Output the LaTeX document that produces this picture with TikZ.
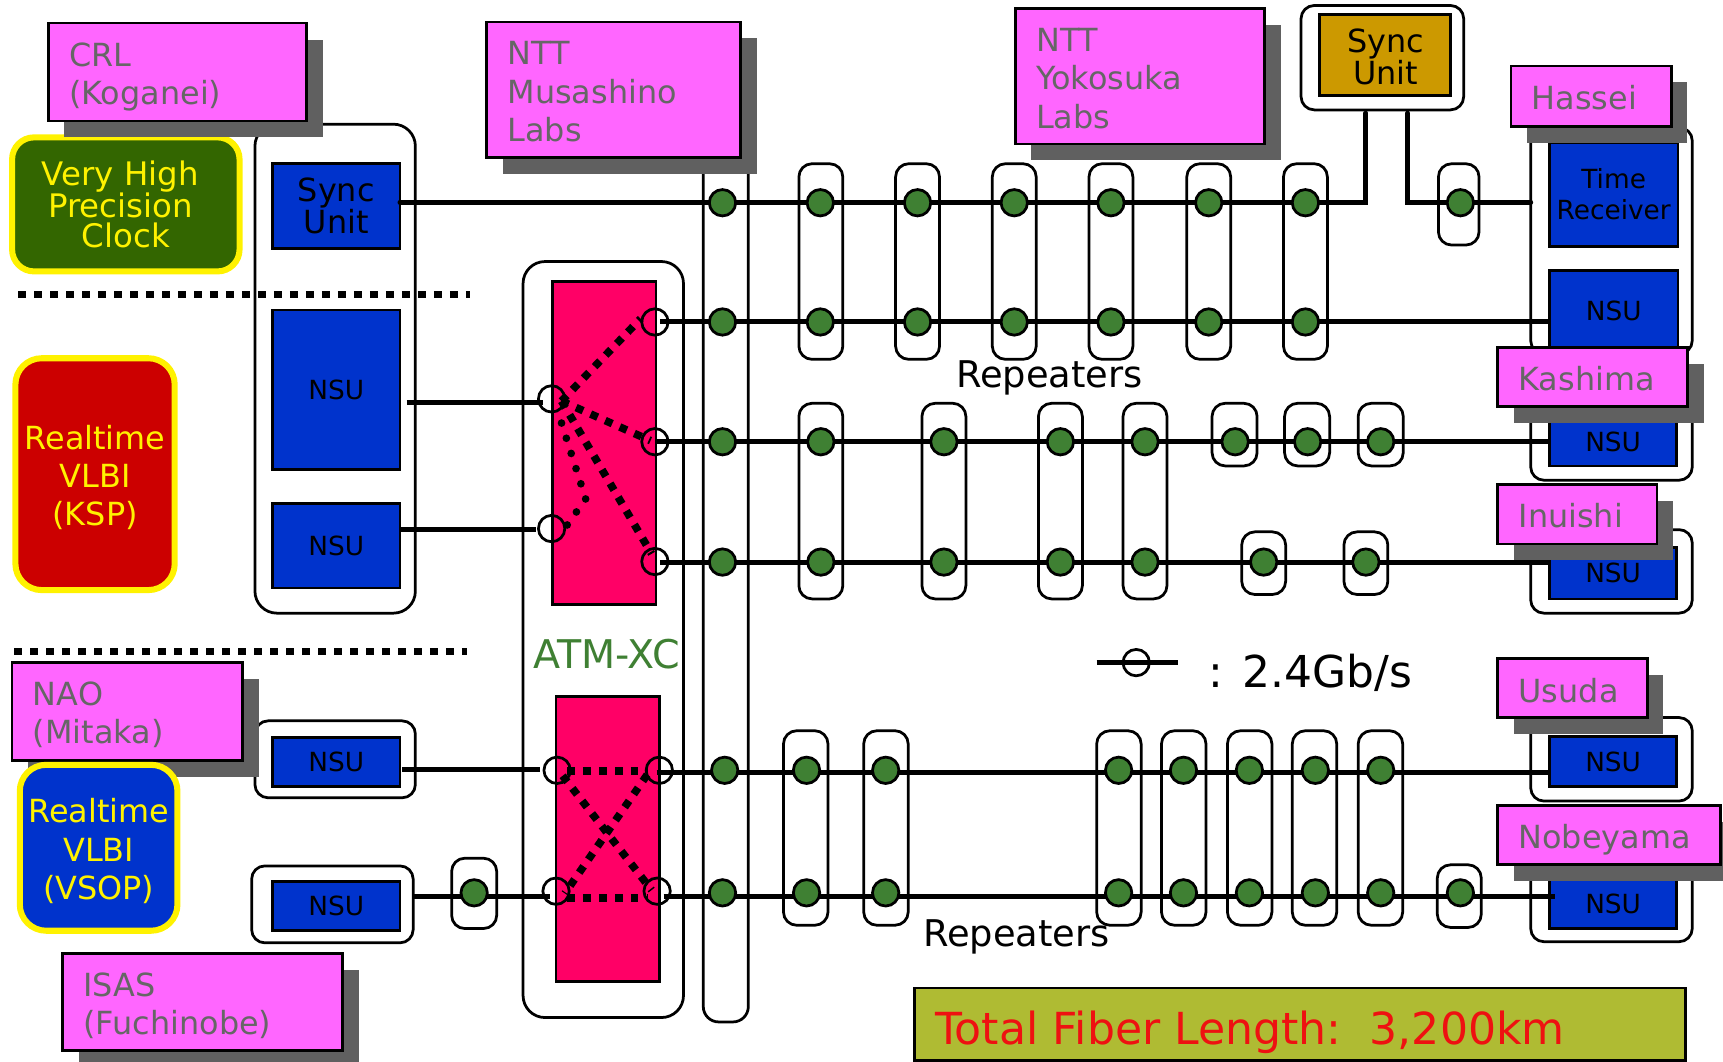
\documentclass[tikz,border=0pt]{standalone}
\usepackage{fontspec}
\setmainfont{DejaVu Sans}
\definecolor{labpink}{HTML}{FF66FF}
\definecolor{shadowgrey}{HTML}{606060}
\definecolor{labtext}{HTML}{666666}
\definecolor{nsublue}{HTML}{0033CC}
\definecolor{xcpink}{HTML}{FF0066}
\definecolor{syncgold}{HTML}{CC9900}
\definecolor{clockgreen}{HTML}{336600}
\definecolor{rtred}{HTML}{CC0000}
\definecolor{repgreen}{HTML}{3F8033}
\definecolor{xcgreen}{HTML}{3F8033}
\definecolor{olivebar}{HTML}{AFBB33}
\definecolor{fiberred}{HTML}{EE1111}
\newcommand\fs[2]{\fontsize{#1}{#2}\selectfont}
\newcommand\nsutxt{\raisebox{-2pt}{NSU}}
% \bx{style}{name}{x1}{y1}{x2}{y2}{text}
\newcommand\bx[7]{%
  \pgfmathsetmacro\bxw{#5-#3}\pgfmathsetmacro\bxh{#6-#4}%
  \pgfmathsetmacro\bxcx{(#3+#5)/2}\pgfmathsetmacro\bxcy{(#4+#6)/2}%
  \node[#1,minimum width=\bxw pt,minimum height=\bxh pt] (#2) at (\bxcx,\bxcy) {#7};}
% \lab{name}{x1}{y1}{x2}{y2}{text}{text shift}
\newcommand\lab[7]{%
  \fill[shadowgrey] (#2+14.5,#3+15) rectangle (#4+14.5,#5+15);
  \pgfmathsetmacro\bxw{#4-#2}\pgfmathsetmacro\bxh{#5-#3}%
  \pgfmathsetmacro\bxcx{(#2+#4)/2}\pgfmathsetmacro\bxcy{(#3+#5)/2}%
  \pgfmathsetmacro\bxty{(#3+#5)/2+#7}\pgfmathsetmacro\bxtx{#2+18.8}%
  \node[labbox,minimum width=\bxw pt,minimum height=\bxh pt] (#1) at (\bxcx,\bxcy) {};
  \node[labtextstyle] (#1text) at (\bxtx,\bxty) {#6};}
\tikzset{
  labbox/.style={draw=black,line width=2.5pt,fill=labpink,inner sep=0pt},
  labtextstyle/.style={anchor=west,text=labtext,align=left,inner sep=0pt,font=\fs{29}{35}},
  roundbox/.style={draw=black,line width=2.5pt,fill=white,rounded corners=#1,inner sep=0pt},
  roundbox/.default=20pt,
  nsubox/.style={draw=black,line width=2.5pt,fill=nsublue,text=black,inner sep=0pt,align=center,font=\fs{24}{28}},
  syncbox/.style={nsubox,font=\fs{29}{28}},
  xcbox/.style={draw=black,line width=2.5pt,fill=xcpink,inner sep=0pt},
  highlight/.style={draw=yellow,line width=5.5pt,rounded corners=#1,text=yellow,inner sep=0pt,align=center},
  wire/.style={draw=black,line width=4.5pt},
  xwire/.style={draw=black,line width=7pt,dash pattern=on 7pt off 7.5pt},
  dotwire/.style={draw=black,line width=7pt,line cap=round,dash pattern=on 0pt off 14.5pt},
  port/.style={circle,draw=black,line width=2.5pt,minimum size=24pt,inner sep=0pt},
  rep/.style={circle,draw=black,line width=2.5pt,fill=repgreen,minimum size=24pt,inner sep=0pt},
  sep/.style={draw=black,line width=6.5pt,dash pattern=on 7.2pt off 7.35pt},
  plaintext/.style={inner sep=0pt,align=center}
}
\begin{document}
\begin{tikzpicture}[x=1pt,y=-1pt]
\useasboundingbox (0,0) rectangle (1568,966.4);
% ---------- enclosures
\bx{roundbox}{leftgroup}{232}{113}{378}{558}{}
\bx{roundbox}{atmgroup}{476}{238}{622}{926}{}
\bx{roundbox=14pt}{column}{640}{120}{681}{930}{}
\bx{roundbox=12pt}{nsugroupa}{232}{656}{378}{726}{}
\bx{roundbox=12pt}{nsugroupb}{229}{788}{376}{858}{}
\bx{roundbox=12pt}{syncgroup}{1184}{5}{1332}{100}{}
\bx{roundbox=12pt}{hasseigroup}{1393}{116}{1540}{322}{}
\bx{roundbox=12pt}{kashimagroup}{1393}{350}{1540}{437}{}
\bx{roundbox=12pt}{inuishigroup}{1393}{482}{1540}{558}{}
\bx{roundbox=12pt}{usudagroup}{1393}{653}{1540}{729}{}
\bx{roundbox=12pt}{nobeyamagroup}{1393}{775}{1540}{857}{}
% ---------- repeater enclosures
\foreach \x/\a in {727/1,815/2,903/3,991/4,1080/5,1168/6}{
  \pgfmathsetmacro\xb{\x+40}
  \bx{roundbox=12pt}{repa\a}{\x}{149}{\xb}{327}{}
}
\bx{roundbox=12pt}{repa7}{1309}{149}{1346}{223}{}
\foreach \x/\a in {727/1,839/2,945/3,1022/4}{
  \pgfmathsetmacro\xb{\x+40}
  \bx{roundbox=12pt}{repb\a}{\x}{367}{\xb}{545}{}
}
\foreach \x/\a in {1103/5,1169/6,1236/7}{
  \pgfmathsetmacro\xb{\x+41}
  \bx{roundbox=12pt}{repb\a}{\x}{367}{\xb}{424}{}
}
\foreach \x/\a in {1130/8,1223/9}{
  \pgfmathsetmacro\xb{\x+40}
  \bx{roundbox=12pt}{repb\a}{\x}{484}{\xb}{541}{}
}
\foreach \x/\a in {713/1,786/2,998/3,1057/4,1117/5,1176/6,1236/7}{
  \pgfmathsetmacro\xb{\x+40.5}
  \bx{roundbox=12pt}{repc\a}{\x}{665}{\xb}{842}{}
}
\bx{roundbox=12pt}{repc8}{1308}{787}{1348}{844}{}
\bx{roundbox=12pt}{repc9}{411}{781}{452}{845}{}
% ---------- units
\bx{syncbox}{syncL}{248}{149}{364}{226}{Sync\\Unit}
\bx{nsubox}{nsuA}{248}{282}{364}{427}{\nsutxt}
\bx{nsubox}{nsuB}{248}{458}{364}{535}{\nsutxt}
\bx{nsubox}{nsuC}{248}{671}{364}{716}{\nsutxt}
\bx{nsubox}{nsuD}{248}{802}{364}{847}{\nsutxt}
\bx{syncbox,fill=syncgold}{syncR}{1201}{13}{1320}{87}{}
\node[plaintext,font=\fs{29}{28}] (syncRtext) at (1261,52) {Sync\\Unit};
\bx{nsubox}{timerx}{1410}{130}{1527}{224}{Time\\Receiver}
\bx{nsubox}{nsuE}{1410}{246}{1527}{320}{NSU}
\bx{nsubox}{nsuF}{1410}{380}{1526}{424}{\nsutxt}
\bx{nsubox}{nsuG}{1410}{498}{1526}{545}{\nsutxt}
\bx{nsubox}{nsuH}{1410}{670}{1526}{716}{\nsutxt}
\bx{nsubox}{nsuI}{1410}{800}{1526}{845}{\nsutxt}
% ---------- cross connects
\bx{xcbox}{xcup}{503}{256}{597}{550}{}
\bx{xcbox}{xclow}{506}{634}{600}{893}{}
\node[port] (pa) at (502,363) {};
\node[port] (pb) at (502,481) {};
\node[port] (pc) at (596,293) {};
\node[port] (pd) at (596,402) {};
\node[port] (pe) at (596,511) {};
\node[port] (pf) at (507,701) {};
\node[port] (pg) at (506,811) {};
\node[port] (ph) at (600,701) {};
\node[port] (pi) at (598,811) {};
\coordinate (ua) at (511,365);
\coordinate (ub) at (583,290);
\coordinate (uc) at (592,401);
\coordinate (ud) at (593,504);
\draw[xwire] (ua) -- (ub);
\draw[xwire] (ua) -- (uc);
\draw[xwire] (ua) -- (ud);
\coordinate (da) at (511,385);
\coordinate (db) at (533,454);
\coordinate (dc) at (516,478);
\draw[dotwire] (da) -- (db) -- (dc);
\coordinate (la) at (512,706);
\coordinate (lb) at (593,810);
\coordinate (lc) at (589,705);
\coordinate (ld) at (514,813);
\coordinate (le) at (516,701.5);
\coordinate (lf) at (590,701.5);
\coordinate (lg) at (516,817);
\coordinate (lh) at (590,817);
\draw[xwire] (la) -- (lb);
\draw[xwire] (lc) -- (ld);
\draw[xwire] (le) -- (lf);
\draw[xwire] (lg) -- (lh);
% ---------- wires
\coordinate (w1a) at (364,184);
\coordinate (w1b) at (1243,184);
\coordinate (w1c) at (1243,103);
\coordinate (w1d) at (1281,103);
\coordinate (w1e) at (1281,184);
\coordinate (w1f) at (1393,184);
\draw[wire,line cap=round] (w1c) -- (w1b) -- (w1a);
\draw[wire,line cap=round] (w1d) -- (w1e) -- (w1f);
\coordinate (w2a) at (600.5,293);
\coordinate (w2b) at (1411,293);
\draw[wire] (w2a) -- (w2b);
\coordinate (w3a) at (596,402);
\coordinate (w3b) at (1410,402);
\draw[wire] (w3a) -- (w3b);
\coordinate (w4a) at (600.5,511.5);
\coordinate (w4b) at (1411,511.5);
\draw[wire] (w4a) -- (w4b);
\coordinate (w5a) at (597.5,703);
\coordinate (w5b) at (1410,703);
\draw[wire] (w5a) -- (w5b);
\coordinate (w6a) at (604,815.5);
\coordinate (w6b) at (1415,815.5);
\draw[wire] (w6a) -- (w6b);
\coordinate (w7a) at (370,366.5);
\coordinate (w7b) at (494.5,366.5);
\draw[wire] (w7a) -- (w7b);
\coordinate (w8a) at (364,481.5);
\coordinate (w8b) at (488,481.5);
\draw[wire] (w8a) -- (w8b);
\coordinate (w9a) at (366,700);
\coordinate (w9b) at (491,700);
\draw[wire] (w9a) -- (w9b);
\coordinate (w10a) at (376,815.5);
\coordinate (w10b) at (500.5,815.5);
\draw[wire] (w10a) -- (w10b);
% ---------- repeaters
\foreach \x/\a in {657.5/1,746.5/2,835/3,923/4,1011/5,1100/6,1188/7,1329/8}
  \node[rep] (ga\a) at (\x,184.5) {};
\foreach \x/\a in {657.5/1,746.5/2,835/3,923/4,1011/5,1100/6,1188/7}
  \node[rep] (gb\a) at (\x,293) {};
\foreach \x/\a in {657.5/1,747/2,859/3,965/4,1042/5,1124/6,1190/7,1256.5/8}
  \node[rep] (gc\a) at (\x,402) {};
\foreach \x/\a in {657.5/1,747/2,859/3,965/4,1042/5,1150/6,1243/7}
  \node[rep] (gd\a) at (\x,511.5) {};
\foreach \x/\a in {659.5/1,734/2,806/3,1018/4,1077/5,1137/6,1197/7,1256.5/8}
  \node[rep] (ge\a) at (\x,701) {};
\foreach \x/\a in {657.5/1,734/2,806/3,1018/4,1077/5,1137/6,1197/7,1256.5/8,1329/9,431.5/10}
  \node[rep] (gf\a) at (\x,812.5) {};
% ---------- separators
\coordinate (sa) at (16.5,268);
\coordinate (sb) at (428,268);
\draw[sep] (sa) -- (sb);
\coordinate (sc) at (13,592.5);
\coordinate (sd) at (425,592.5);
\draw[sep] (sc) -- (sd);
% ---------- highlighted panels
\bx{highlight=20pt,fill=clockgreen,font=\fs{29.5}{27.5}}{clock}{11}{125}{218}{247}{Very High\kern10pt\\Precision\kern10pt\\Clock}
\bx{highlight=24pt,fill=rtred}{ksp}{14}{326}{159}{537}{}
\node[plaintext,text=yellow,font=\fs{29}{35}] (ksptext) at (86.5,434.5) {Realtime\\VLBI\\(KSP)};
% ---------- site labels
\lab{crl}{44}{21}{279}{110}{CRL\\(Koganei)}{4.5}
\lab{musashino}{443}{20}{674}{143}{NTT\\Musashino\\Labs}{2}
\lab{yokosuka}{924}{8}{1151}{131}{NTT\\Yokosuka\\Labs}{2}
\lab{hassei}{1375}{60}{1521}{115}{Hassei}{1}
\lab{kashima}{1363}{316}{1536}{370}{Kashima}{2}
\lab{inuishi}{1363}{441}{1508}{495}{Inuishi}{1}
\lab{usuda}{1363}{599}{1499}{653}{Usuda}{2.5}
\lab{nobeyama}{1363}{733}{1566}{787}{Nobeyama}{4}
\lab{nao}{11}{603}{221}{692}{NAO\\(Mitaka)}{3}
\lab{isas}{57}{868}{312}{956}{ISAS\\(Fuchinobe)}{3.5}
\bx{highlight=24pt,fill=nsublue}{vsop}{18}{696}{161.5}{847}{}
\node[plaintext,text=yellow,font=\fs{29}{35}] (vsoptext) at (89.75,774.5) {Realtime\\VLBI\\(VSOP)};
% ---------- free texts
\node[plaintext,font=\fs{33.5}{34}] (repup) at (955,343.5) {Repeaters};
\node[plaintext,font=\fs{33.5}{34}] (replow) at (925,852.5) {Repeaters};
\node[plaintext,text=xcgreen,font=\fs{36}{38}] (atmtext) at (552,595) {ATM-XC};
\coordinate (lega) at (998,603);
\coordinate (legb) at (1072,603);
\draw[wire,line width=5pt] (lega) -- (legb);
\node[port] (legport) at (1034,603) {};
\node[plaintext,anchor=west,font=\fs{40}{44}] (legtext) at (1100,612) {:\kern17.5pt 2.4Gb/s};
\bx{draw=black,line width=2.5pt,fill=olivebar,inner sep=0pt}{fiberbar}{832}{899}{1534}{965}{}
\node[plaintext,anchor=west,text=fiberred,font=\fs{40.2}{44}] (fibertext) at (851,939) {Total Fiber Length:\ \ 3,200km};
\end{tikzpicture}
\end{document}
